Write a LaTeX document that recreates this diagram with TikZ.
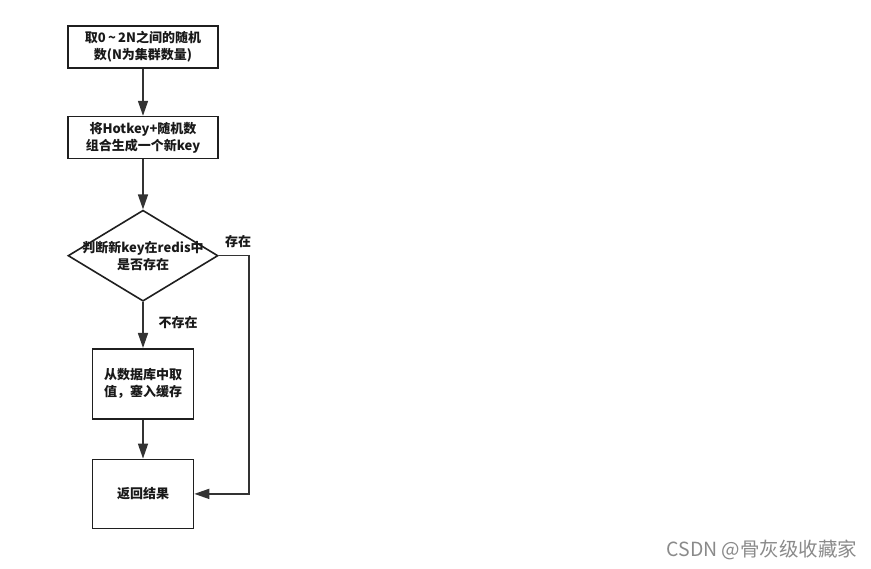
\documentclass[tikz,border=0pt]{standalone}
\usepackage{fontspec}
\newfontfamily\cjk{Noto Sans CJK SC}
\usepackage{tikz}
\usetikzlibrary{shapes.geometric, arrows.meta, positioning}
\definecolor{linegray}{HTML}{333333}
\definecolor{markgray}{HTML}{8A8A8A}

\begin{document}
\begin{tikzpicture}[
    x=1pt, y=-1pt,
    txt/.style={font=\cjk\bfseries\fontsize{13}{17}\selectfont, text=black!90},
    box/.style={txt, rectangle, draw=black!88, line width=1.6pt, minimum width=150pt, minimum height=42pt, align=center, inner sep=2pt},
    smallbox/.style={box, minimum width=101pt, minimum height=70pt},
    decision/.style={diamond, draw=black!88, line width=1.6pt, minimum width=150pt, minimum height=91pt, inner sep=0pt},
    arrow/.style={-{Triangle[length=15pt, width=10pt]}, draw=linegray, line width=1.6pt}
]
\useasboundingbox (0,0) rectangle (871,569);
\node[box] (rnd) at (143,47) {取0\,\textasciitilde\,2N之间的随机\\数(N为集群数量)};
\node[box, below=47pt of rnd] (key) {将Hotkey+随机数\\组合生成一个新key};
\node[decision, below=50pt of key] (chk) {};
\node[txt, align=center] (chktxt) at (chk) {判断新key在redis中\\是否存在};
\node[smallbox, below=46pt of chk] (db) {从数据库中取\\值，塞入缓存};
\node[smallbox, below=39pt of db, minimum height=69pt] (ret) {返回结果};
\draw[arrow] (rnd) -- (key);
\draw[arrow] (key) -- (chk);
\draw[arrow] (chk) -- (db);
\draw[arrow] (db) -- (ret);
\draw[arrow] (chk.east) -- ++(30pt,0) |- (ret.east);
\node[txt] (yes) at (238,242) {存在};
\node[txt] (no) at (178,323) {不存在};
\node[font=\cjk\fontsize{19.5}{22}\selectfont, text=markgray] (mark) at (762,550) {CSDN @骨灰级收藏家};
\end{tikzpicture}
\end{document}
